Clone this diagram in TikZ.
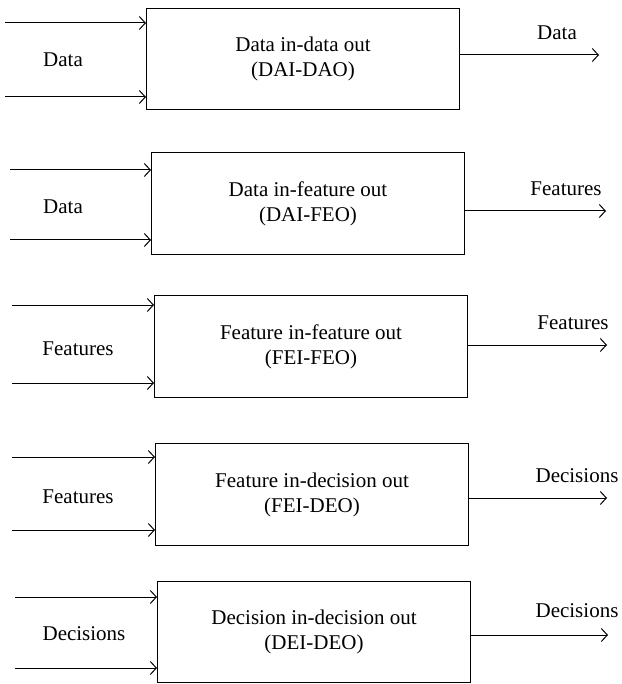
\documentclass[tikz,border=0pt]{standalone}
\usepackage{fontspec}
\setmainfont{Liberation Serif}
\usetikzlibrary{arrows.meta}
\begin{document}
\begin{tikzpicture}[x=1pt,y=-1pt,
  fbox/.style={draw, line width=1pt, minimum width=313pt, anchor=north west, align=center, inner sep=0pt},
  arr/.style={line width=1pt, -{Straight Barb[length=6pt,width=13pt,line width=1pt]}},
  every node/.append style={font=\fontsize{21}{25}\selectfont}]
\useasboundingbox (0,0) rectangle (621,684);
% Box 1
\node[fbox, minimum height=101pt] (b1) at (146,8) {Data in-data out\\(DAI-DAO)};
\coordinate (i1a) at (5,23); \coordinate (i1b) at (5,97);
\draw[arr] (i1a) -- (i1a -| b1.west);
\draw[arr] (i1b) -- (i1b -| b1.west);
\node (l1) at (63,60) {Data};
\coordinate (o1) at (599,55);
\draw[arr] (o1 -| b1.east) -- (o1);
\node (r1) at (557,33) {Data};
% Box 2
\node[fbox, minimum height=102pt] (b2) at (151,152) {Data in-feature out\\(DAI-FEO)};
\coordinate (i2a) at (10,170); \coordinate (i2b) at (10,240);
\draw[arr] (i2a) -- (i2a -| b2.west);
\draw[arr] (i2b) -- (i2b -| b2.west);
\node (l2) at (63,207) {Data};
\coordinate (o2) at (606,211);
\draw[arr] (o2 -| b2.east) -- (o2);
\node (r2) at (566,189) {Features};
% Box 3
\node[fbox, minimum height=102pt] (b3) at (154,295) {Feature in-feature out\\(FEI-FEO)};
\coordinate (i3a) at (12,305); \coordinate (i3b) at (12,383);
\draw[arr] (i3a) -- (i3a -| b3.west);
\draw[arr] (i3b) -- (i3b -| b3.west);
\node (l3) at (78,349) {Features};
\coordinate (o3) at (607,345);
\draw[arr] (o3 -| b3.east) -- (o3);
\node (r3) at (573,323) {Features};
% Box 4
\node[fbox, minimum height=102pt] (b4) at (155,443) {Feature in-decision out\\(FEI-DEO)};
\coordinate (i4a) at (12,457); \coordinate (i4b) at (12,530);
\draw[arr] (i4a) -- (i4a -| b4.west);
\draw[arr] (i4b) -- (i4b -| b4.west);
\node (l4) at (78,497) {Features};
\coordinate (o4) at (607,498);
\draw[arr] (o4 -| b4.east) -- (o4);
\node (r4) at (577,476) {Decisions};
% Box 5
\node[fbox, minimum height=101pt] (b5) at (157,581) {Decision in-decision out\\(DEI-DEO)};
\coordinate (i5a) at (15,597); \coordinate (i5b) at (15,668);
\draw[arr] (i5a) -- (i5a -| b5.west);
\draw[arr] (i5b) -- (i5b -| b5.west);
\node (l5) at (84,634) {Decisions};
\coordinate (o5) at (608,635);
\draw[arr] (o5 -| b5.east) -- (o5);
\node (r5) at (577,611) {Decisions};
\end{tikzpicture}
\end{document}
